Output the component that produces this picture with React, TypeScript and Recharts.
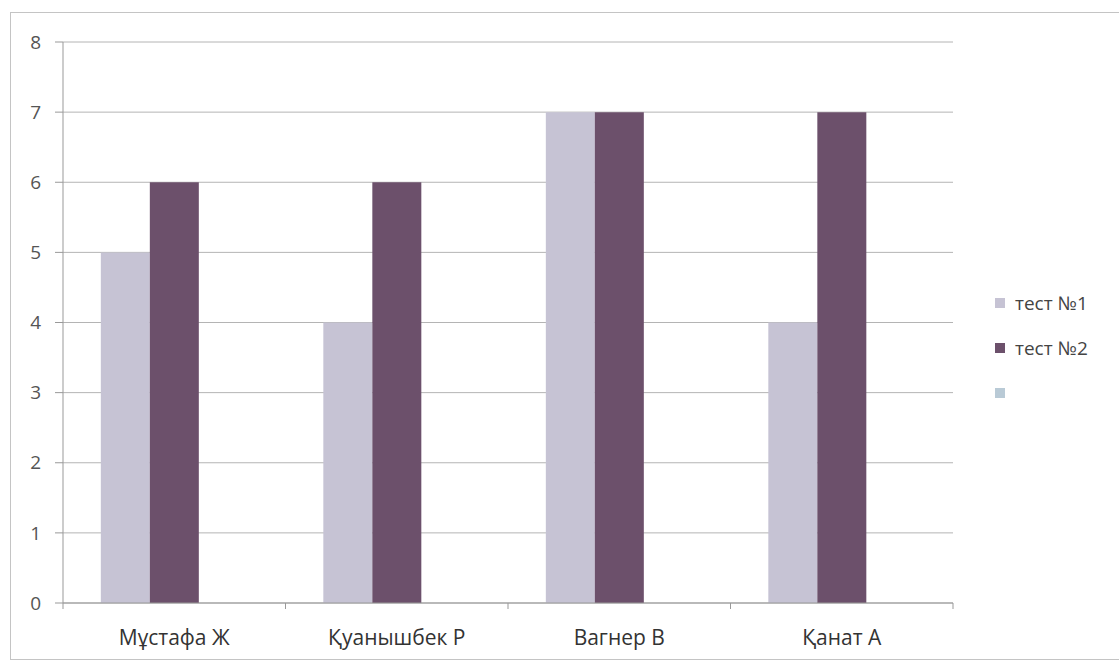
import React from "react";
import { BarChart, Bar, XAxis, YAxis, CartesianGrid } from "recharts";

const students = ["Мұстафа Ж", "Қуанышбек Р", "Вагнер В", "Қанат А"];
const test1 = [5, 4, 7, 4];
const test2 = [6, 6, 7, 7];
const test3: (number | null)[] = [null, null, null, null];
const yTicks = [0, 1, 2, 3, 4, 5, 6, 7, 8];

const series = [
  { key: "t1", name: "тест №1", color: "#c6c3d4" },
  { key: "t2", name: "тест №2", color: "#6c506b" },
  { key: "t3", name: "", color: "#b9cad6" },
];

const data = students.map((name, i) => ({
  name,
  t1: test1[i],
  t2: test2[i],
  t3: test3[i],
}));

const font = "'Open Sans', 'Noto Sans', sans-serif";
const TICK_GAP = 27;

// category label with Excel-style tick marks on the band edges
function CategoryTick(props: any) {
  const { x, y, payload, width, visibleTicksCount, index } = props;
  const band = width / visibleTicksCount;
  const axisY = y - TICK_GAP;
  const left = x - band / 2;
  const right = x + band / 2;
  return (
    <g>
      <line x1={left} x2={left} y1={axisY} y2={axisY + 6} stroke="#999" />
      {index === visibleTicksCount - 1 && (
        <line x1={right} x2={right} y1={axisY} y2={axisY + 6} stroke="#999" />
      )}
      <text
        x={x}
        y={y}
        dy="0.71em"
        textAnchor="middle"
        fill="#333"
        fontSize={21}
        fontFamily={font}
      >
        {payload.value}
      </text>
    </g>
  );
}

function LegendBox() {
  return (
    <div
      style={{
        position: "absolute",
        left: 995,
        top: 280,
        fontFamily: font,
        fontSize: 19,
        color: "#444",
      }}
    >
      {series.map((s) => (
        <div
          key={s.key}
          style={{ display: "flex", alignItems: "center", height: 45 }}
        >
          <span
            style={{
              display: "inline-block",
              width: 10,
              height: 10,
              background: s.color,
              marginRight: 10,
            }}
          />
          <span>{s.name}</span>
        </div>
      ))}
    </div>
  );
}

export default function App() {
  return (
    <div
      style={{
        position: "absolute",
        left: 0,
        top: 0,
        width: 1119,
        height: 666,
        background: "#fff",
      }}
    >
      <div
        style={{
          position: "absolute",
          left: 10,
          top: 12,
          width: 1115,
          height: 646,
          border: "1px solid #c4c4c4",
        }}
      />
      <BarChart
        width={1119}
        height={666}
        data={data}
        margin={{ top: 42, right: 166, bottom: 33, left: 23 }}
        barCategoryGap="17%"
        barGap={0}
      >
        <CartesianGrid vertical={false} stroke="#b4b4b4" />
        <XAxis
          dataKey="name"
          tickLine={false}
          axisLine={{ stroke: "#999" }}
          tick={<CategoryTick />}
          tickMargin={21}
          height={30}
          interval={0}
        />
        <YAxis
          domain={[0, 8]}
          ticks={yTicks}
          width={40}
          tickSize={8}
          tickMargin={14}
          axisLine={{ stroke: "#999" }}
          tickLine={{ stroke: "#999" }}
          tick={{ fill: "#555", fontSize: 19, fontFamily: font }}
        />
        {series.map((s) => (
          <Bar
            key={s.key}
            dataKey={s.key}
            name={s.name}
            fill={s.color}
            isAnimationActive={false}
          />
        ))}
      </BarChart>
      <LegendBox />
    </div>
  );
}
